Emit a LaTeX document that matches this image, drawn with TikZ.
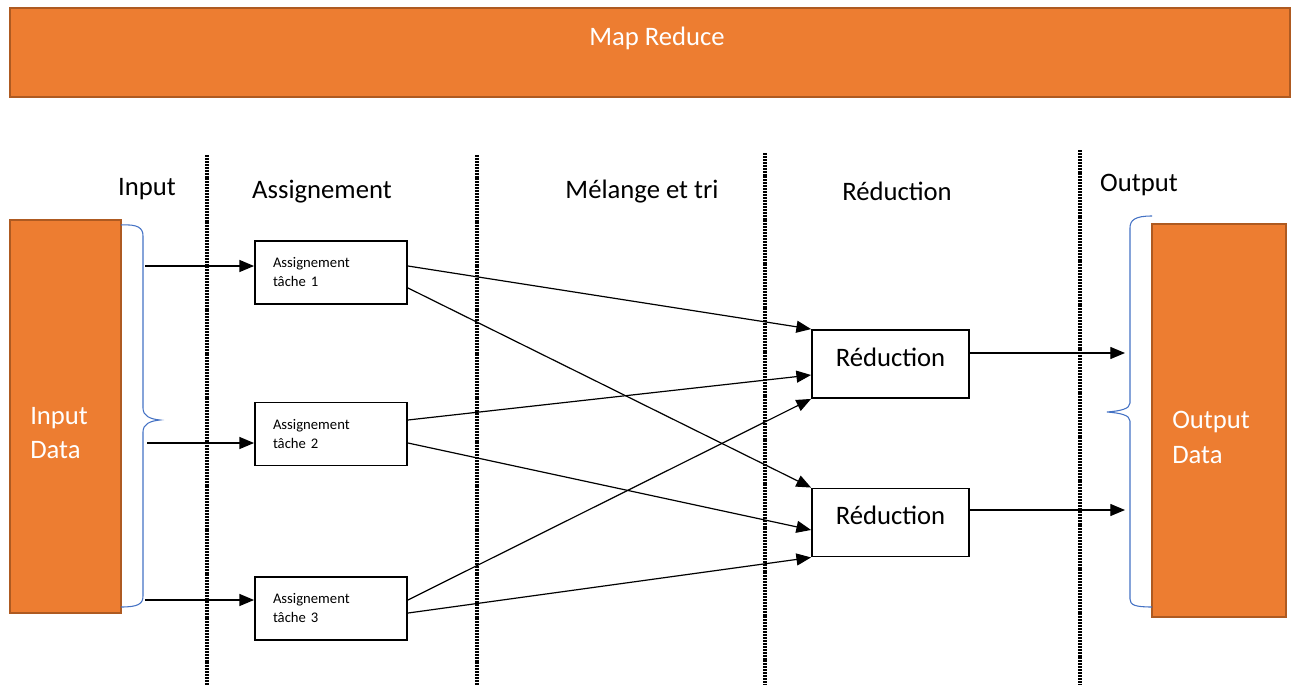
\documentclass[tikz,border=0pt]{standalone}
\usepackage{fontspec}
\setmainfont{Carlito}
\usetikzlibrary{arrows.meta}
\definecolor{mrorange}{HTML}{ED7D31}
\definecolor{mrborder}{HTML}{AE5A21}
\definecolor{mrblue}{HTML}{4472C4}
\tikzset{
  bar/.style={draw=mrborder,fill=mrorange,line width=1.5pt,inner sep=0pt},
  big/.style={font=\fontsize{20}{26}\selectfont},
  whitetext/.style={big,text=white,align=left,inner sep=0pt},
  task/.style={draw,line width=1.4pt,minimum height=47.25pt,text width=87pt,inner xsep=13.5pt,
    align=left,font=\fontsize{11}{14.25}\selectfont},
  reducer/.style={draw,line width=1.4pt,minimum width=117.75pt,minimum height=51pt,big},
  conn/.style={-{Triangle[length=11pt,width=9pt]},line width=0.9pt},
  brace/.style={mrblue,line width=0.8pt},
  sep/.style={line width=2.3pt,dash pattern=on 1.5pt off 0.7pt}
}
\begin{document}
\begin{tikzpicture}[x=0.75pt,y=-0.75pt]
  \useasboundingbox (0,0) rectangle (1293,685);
  % header bar
  \node[bar,minimum width=960pt,minimum height=66.75pt] (mapreduce) at (650,52.5) {};
  \node[big,text=white] (mrtitle) at (657,38) {Map Reduce};
  % phase separators
  \foreach \x/\y in {207/155,477/155,765/153,1080/150}
    \draw[sep] (\x,\y) -- (\x,685);
  % phase titles
  \node[big] (hinput) at (147,189) {Input};
  \node[big] (hassign) at (322,192) {Assignement};
  \node[big] (hshuffle) at (642,192) {Mélange et tri};
  \node[big] (hreduce) at (897,191) {Réduction};
  \node[big] (houtput) at (1139,185) {Output};
  % data blocks
  \node[bar,minimum width=83.25pt,minimum height=294.75pt] (indata) at (65.5,416.5) {};
  \node[whitetext,anchor=west] (intext) at (30,433) {Input\\Data};
  \node[bar,minimum width=100.5pt,minimum height=294.75pt] (outdata) at (1219,420.5) {};
  \node[whitetext,anchor=west] (outtext) at (1172,437.5) {Output\\Data};
  % braces
  \draw[brace] (121,225) .. controls (138,224) and (143,228) .. (143,236) -- (143,408)
    .. controls (143,416) and (150,419) .. (160,420) .. controls (150,421) and (143,424) .. (143,432)
    -- (143,596) .. controls (143,604) and (138,607) .. (121,607);
  \draw[brace] (1152,216) .. controls (1135,216) and (1130,220) .. (1130,228) -- (1130,403)
    .. controls (1130,409) and (1120,411) .. (1107,412) .. controls (1120,413) and (1130,415) .. (1130,421)
    -- (1130,599) .. controls (1130,605) and (1135,607) .. (1152,607);
  % tasks
  \node[task] (a1) at (331,272.5) {Assignement\\tâche 1};
  \node[task] (a2) at (331,434) {Assignement\\tâche 2};
  \node[task] (a3) at (331,608.5) {Assignement\\tâche 3};
  \node[reducer] (r1) at (890.5,364) {\raisebox{5pt}[\height][\depth]{Réduction}};
  \node[reducer] (r2) at (890.5,522.5) {\raisebox{5pt}[\height][\depth]{Réduction}};
  \coordinate (s1) at (145,266);
  \coordinate (s2) at (147,443);
  \coordinate (s3) at (145,600);
  \coordinate (o1) at (1125,353);
  \coordinate (o2) at (1125,510);
  % input splits
  \draw[conn] (s1) -- (a1.west |- s1);
  \draw[conn] (s2) -- (a2.west |- s2);
  \draw[conn] (s3) -- (a3.west |- s3);
  % shuffle
  \draw[conn] (a1.east |- s1) -- (r1.north west);
  \draw[conn] ([yshift=-11.6pt]a1.east) -- (r2.north west);
  \draw[conn] ([yshift=10.5pt]a2.east) -- ([yshift=-8.25pt]r1.west);
  \draw[conn] (a2.east |- s2) -- ([yshift=-5.6pt]r2.west);
  \draw[conn] (a3.east |- s3) -- (r1.south west);
  \draw[conn] ([yshift=-3.4pt]a3.east) -- (r2.south west);
  % results
  \draw[conn] (r1.east |- o1) -- (o1);
  \draw[conn] (r2.east |- o2) -- (o2);
\end{tikzpicture}
\end{document}
